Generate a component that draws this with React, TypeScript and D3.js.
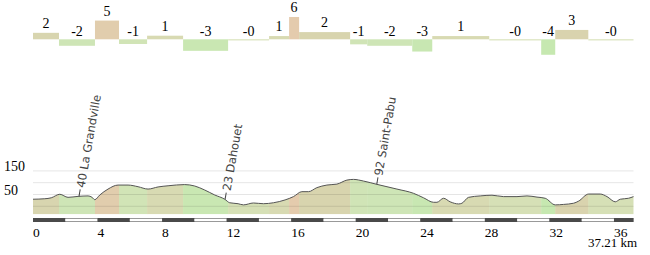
import React from 'react';
import * as d3 from 'd3';

// Elevation profile (km, metres)
const distKm = [0, 0.73, 1.13, 1.66, 2.17, 2.79, 3.41, 3.66, 3.83, 4.14, 4.65, 5.27, 5.89, 6.51, 7.13, 7.75, 8.37, 9.4, 10.02, 10.64, 11.26, 11.88, 12.19, 12.71, 13.04, 13.66, 14.28, 14.9, 15.62, 16.14, 16.66, 17.07, 17.59, 18.21, 18.83, 19.45, 19.86, 20.48, 21.31, 22.55, 23.58, 24.2, 24.82, 25.03, 25.44, 25.85, 26.37, 26.58, 26.99, 27.71, 28.44, 29.16, 29.99, 30.61, 31.23, 31.74, 32.36, 32.88, 33.5, 33.81, 34.43, 35.15, 35.57, 36.08, 36.39, 36.9, 37.21];
const elevM = [30, 32, 36, 51, 38, 42, 44, 38, 28, 48, 73, 90, 90, 83, 73, 82, 87, 92, 86, 69, 48, 30, 15, 11, 6, 14, 11, 15, 27, 41, 62, 62, 79, 90, 94, 111, 114, 107, 93, 73, 55, 36, 17, 17, 34, 19, 10, 13, 38, 44, 47, 41, 41, 44, 39, 34, 6, 8, 13, 22, 52, 52, 41, 19, 30, 34, 41];

// Gradient segments
const segStartKm = [0, 1.61, 3.84, 5.33, 7.07, 9.3, 12.09, 14.63, 15.87, 16.49, 19.65, 20.71, 23.5, 24.74, 28.27, 31.49, 32.36, 34.41];
const totalKm = 37.21;
const segGrade = [1.8, -1.8, 5.2, -1.3, 1.0, -3.2, -0.3, 0.9, 6.2, 2.0, -1.4, -1.8, -3.4, 0.9, -0.3, -4.3, 2.6, -0.3];
const segLabel = ['2', '-2', '5', '-1', '1', '-3', '-0', '1', '6', '2', '-1', '-2', '-3', '1', '-0', '-4', '3', '-0'];

// Places
const placeKm = [2.85, 11.9, 21.3];
const placeLabel = ['40 La Grandville', '23 Dahouet', '92 Saint-Pabu'];

// Axes
const xTicks = [0, 4, 8, 12, 16, 20, 24, 28, 32, 36];
const yGrid = [0, 50, 100, 150];
const yLabels = [50, 150];

const SERIF = "'Liberation Serif', 'Times New Roman', Times, serif";
const SANS = "'DejaVu Sans', sans-serif";

export default function App() {
  const W = 650, H = 255;
  const x = d3.scaleLinear().domain([0, totalKm]).range([33, 633.5]);
  const y = d3.scaleLinear().domain([0, 150]).range([206.3, 170.9]);
  const plotBottom = 214.3;
  const yBar = d3.scaleLinear().domain([0, 1]).range([39.3, 35.7]);

  const color = d3.scaleLinear<string>()
    .domain([-4, -2, 0, 2, 4, 6])
    .range(['#c6e8b0', '#cde6b6', '#d8dfb6', '#d8d4ae', '#dcd0ae', '#e4cbad'])
    .clamp(true);

  const pts = distKm.map((k, i) => ({ k, e: elevM[i] }));
  const area = d3.area<{ k: number; e: number }>()
    .x(d => x(d.k)).y0(plotBottom).y1(d => y(d.e)).curve(d3.curveMonotoneX);
  const line = d3.line<{ k: number; e: number }>()
    .x(d => x(d.k)).y(d => y(d.e)).curve(d3.curveMonotoneX);

  const segEndKm = [...segStartKm.slice(1), totalKm];
  const elevAt = (k: number) => {
    const i = Math.max(1, d3.bisectLeft(distKm, k));
    const t = (k - distKm[i - 1]) / (distKm[i] - distKm[i - 1]);
    return elevM[i - 1] + t * (elevM[i] - elevM[i - 1]);
  };

  const scaleSegs = d3.range(0, Math.ceil(totalKm / 2)).map(i => ({ a: i * 2, b: Math.min(totalKm, i * 2 + 2), dark: i % 2 === 0 }));

  return (
    <svg width={W} height={H} style={{ position: 'absolute', left: 0, top: 0 }}>
      <defs>
        <clipPath id="profClip">
          <path d={area(pts) || ''} />
        </clipPath>
      </defs>

      {/* grade bars */}
      {segStartKm.map((s, i) => {
        const g = segGrade[i];
        const y0 = yBar(0), y1 = yBar(g);
        return (
          <rect key={'b' + i} x={x(s)} width={x(segEndKm[i]) - x(s)}
            y={Math.min(y0, y1)} height={Math.max(0.8, Math.abs(y1 - y0))}
            fill={color(g)} />
        );
      })}
      {segStartKm.map((s, i) => {
        const g = segGrade[i];
        const cx = (x(s) + x(segEndKm[i])) / 2;
        const ty = g > 0 ? yBar(g) - 5 : yBar(0) - 3.8;
        return (
          <text key={'bl' + i} x={cx} y={ty} textAnchor="middle" fontSize={14} fill="#000" fontFamily={SERIF}>{segLabel[i]}</text>
        );
      })}

      {/* profile fill */}
      <g clipPath="url(#profClip)">
        {segStartKm.map((s, i) => (
          <rect key={'f' + i} x={x(s)} width={x(segEndKm[i]) - x(s) + 0.5} y={150} height={plotBottom - 150}
            fill={color(segGrade[i])} />
        ))}
      </g>

      {/* grid */}
      {yGrid.map(v => (
        <line key={'g' + v} x1={x(0)} x2={x(totalKm)} y1={y(v)} y2={y(v)} stroke="#000" strokeOpacity={0.1} strokeWidth={1} />
      ))}
      {yLabels.map(v => (
        <text key={'yl' + v} x={4} y={y(v)} fontSize={14} fill="#000" fontFamily={SERIF}>{v}</text>
      ))}

      <path d={line(pts) || ''} fill="none" stroke="#555" strokeWidth={1} />

      {/* places */}
      {placeKm.map((k, i) => (
        <g key={'p' + i} transform={`translate(${x(k)},${y(elevAt(k))}) rotate(-80)`}>
          <line x1={0} x2={7} y1={0} y2={0} stroke="#444" strokeWidth={1} />
          <text x={9} dy="0.35em" fontSize={11.5} fill="#444" fontFamily={SANS}>{placeLabel[i]}</text>
        </g>
      ))}

      {/* scale bar */}
      <rect x={x(0)} y={218} width={x(totalKm) - x(0)} height={4} fill="#999" />
      {scaleSegs.map((s, i) => (
        s.dark
          ? <rect key={'s' + i} x={x(s.a)} y={218} width={x(s.b) - x(s.a)} height={4} fill="#4a4a4a" />
          : <rect key={'s' + i} x={x(s.a)} y={219} width={x(s.b) - x(s.a)} height={2} fill="#fff" />
      ))}

      {xTicks.map(t => (
        <text key={'xt' + t} x={x(t)} y={236.5} fontSize={13.5} fill="#000" fontFamily={SERIF}>{t}</text>
      ))}
      <text x={637} y={247.3} textAnchor="end" fontSize={13} fill="#000" fontFamily={SERIF}>{totalKm} km</text>
    </svg>
  );
}
